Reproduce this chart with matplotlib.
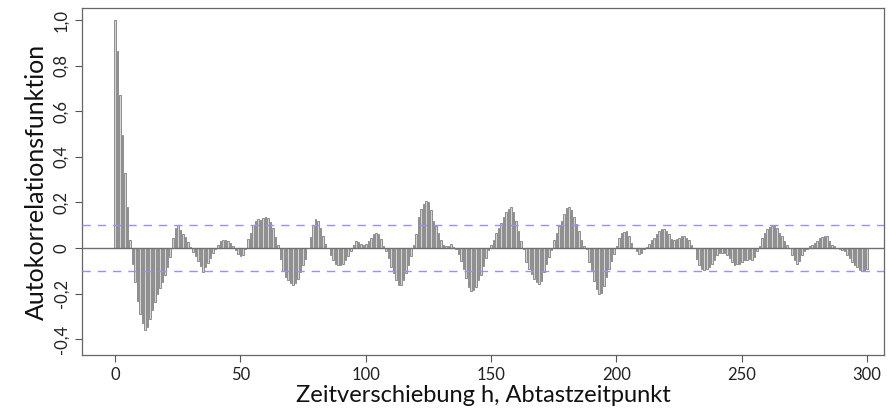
import matplotlib
matplotlib.use("Agg")
import matplotlib.pyplot as plt
import numpy as np

acf_values = [
    1.0, 0.865, 0.67, 0.495, 0.33, 0.18, 0.035, -0.07, -0.15, -0.23,
    -0.29, -0.33, -0.36, -0.345, -0.31, -0.27, -0.235, -0.2, -0.175, -0.15,
    -0.12, -0.085, -0.04, 0.045, 0.088, 0.1, 0.078, 0.063, 0.048, 0.025,
    0.003, -0.016, -0.035, -0.057, -0.08, -0.105, -0.083, -0.064, -0.042, -0.02,
    -0.005, 0.015, 0.03, 0.037, 0.037, 0.033, 0.022, 0.01, -0.01, -0.025,
    -0.035, -0.03, -0.005, 0.04, 0.068, 0.1, 0.118, 0.127, 0.122, 0.13,
    0.135, 0.13, 0.115, 0.09, 0.05, 0.015, -0.05, -0.1, -0.125, -0.14,
    -0.155, -0.16, -0.155, -0.135, -0.105, -0.075, -0.05, 0.0, 0.05, 0.1,
    0.127, 0.12, 0.09, 0.052, 0.02, 0.0, -0.03, -0.053, -0.07, -0.076,
    -0.076, -0.07, -0.053, -0.035, -0.012, 0.015, 0.033, 0.028, 0.02, 0.015,
    0.02, 0.03, 0.045, 0.06, 0.065, 0.06, 0.04, 0.007, -0.012, -0.045,
    -0.083, -0.11, -0.14, -0.16, -0.16, -0.14, -0.11, -0.075, -0.035, 0.015,
    0.06, 0.135, 0.17, 0.195, 0.205, 0.2, 0.165, 0.12, 0.097, 0.067,
    0.037, 0.015, 0.007, 0.01, 0.02, 0.003, -0.005, -0.025, -0.055, -0.09,
    -0.13, -0.17, -0.19, -0.185, -0.17, -0.14, -0.12, -0.08, -0.045, -0.01,
    0.015, 0.037, 0.067, 0.09, 0.112, 0.135, 0.157, 0.172, 0.178, 0.16,
    0.12, 0.075, 0.03, -0.005, -0.06, -0.09, -0.112, -0.135, -0.15, -0.158,
    -0.145, -0.105, -0.07, -0.04, -0.01, 0.037, 0.067, 0.097, 0.12, 0.15,
    0.175, 0.18, 0.165, 0.135, 0.105, 0.075, 0.037, 0.007, -0.005, -0.06,
    -0.097, -0.143, -0.18, -0.2, -0.195, -0.165, -0.128, -0.09, -0.055, -0.025,
    0.01, 0.045, 0.067, 0.072, 0.075, 0.052, 0.022, 0.0, -0.012, -0.027,
    -0.02, -0.005, 0.003, 0.02, 0.037, 0.045, 0.06, 0.075, 0.085, 0.085,
    0.075, 0.06, 0.04, 0.037, 0.04, 0.045, 0.052, 0.052, 0.045, 0.037,
    0.015, 0.0, -0.05, -0.073, -0.09, -0.097, -0.09, -0.083, -0.068, -0.053,
    -0.03, -0.022, -0.02, -0.022, -0.03, -0.045, -0.06, -0.075, -0.07, -0.072,
    -0.06, -0.053, -0.053, -0.05, -0.053, -0.038, -0.015, 0.007, 0.045, 0.067,
    0.085, 0.093, 0.097, 0.097, 0.09, 0.067, 0.052, 0.03, 0.015, 0.0,
    -0.03, -0.053, -0.068, -0.055, -0.03, -0.012, -0.003, 0.007, 0.015, 0.022,
    0.033, 0.045, 0.048, 0.055, 0.052, 0.033, 0.015, 0.007, 0.002, -0.002,
    -0.008, -0.015, -0.03, -0.045, -0.06, -0.075, -0.085, -0.095, -0.1, -0.1,
    -0.09,
]
lags = list(range(len(acf_values)))
conf_limit = 0.1

x_ticks = [0, 50, 100, 150, 200, 250, 300]
y_ticks = [-0.4, -0.2, 0.0, 0.2, 0.4, 0.6, 0.8, 1.0]
y_tick_labels = ["-0,4", "-0,2", "0", "0,2", "0,4", "0,6", "0,8", "1,0"]
x_label = "Zeitverschiebung h, Abtastzeitpunkt"
y_label = "Autokorrelationsfunktion"

plt.rcParams["font.family"] = ["Lato", "DejaVu Sans"]

W, H = 888, 412
fig = plt.figure(figsize=(W / 100, H / 100), dpi=100)
left, right, top, bottom = 82, 884, 8, 355
ax = fig.add_axes([left / W, 1 - bottom / H, (right - left) / W, (bottom - top) / H])

ax.bar(lags, acf_values, width=0.6, color="#d4d4d4", edgecolor="#6a6a6a", linewidth=0.5)
ax.axhline(0, color="#707070", linewidth=1.0, zorder=3)
for s in (conf_limit, -conf_limit):
    ax.axhline(s, color="#9494ea", linewidth=1.0, linestyle=(0, (6, 5)), zorder=3)

ax.set_xlim(-13.2, 306.7)
ax.set_ylim(-0.469, 1.053)
ax.set_xticks(x_ticks)
ax.set_xticklabels([str(t) for t in x_ticks], fontsize=12, color="#222222")
ax.set_yticks(y_ticks)
ax.set_yticklabels(y_tick_labels, fontsize=12, rotation=90, va="center", color="#222222")
ax.tick_params(axis="both", length=5, color="#555555", width=0.8)
ax.tick_params(axis="x", pad=4)
ax.tick_params(axis="y", pad=4)
for sp in ax.spines.values():
    sp.set_color("#666666")
    sp.set_linewidth(0.9)

ax.set_xlabel(x_label, fontsize=17, color="#111111", labelpad=1)
ax.set_ylabel(y_label, fontsize=18, color="#111111", labelpad=4)

fig.savefig("out.png", dpi=100)
